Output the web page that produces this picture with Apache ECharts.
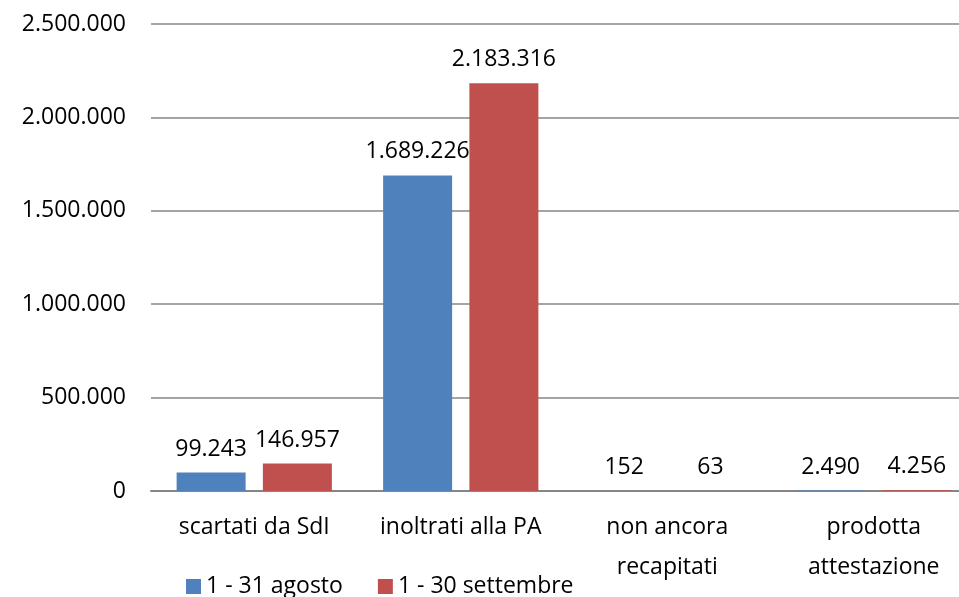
<!DOCTYPE html>
<html>
<head>
<meta charset="utf-8">
<script src="https://cdn.jsdelivr.net/npm/echarts@6/dist/echarts.min.js"></script>
<style>
  html, body { margin: 0; padding: 0; background: #fff; }
  #chart { width: 959px; height: 597px; }
</style>
</head>
<body>
<div id="chart"></div>
<script>
// data
var categories = ['scartati da SdI', 'inoltrati alla PA', 'non ancora\nrecapitati', 'prodotta\nattestazione']
var seriesNames = ['1 - 31 agosto', '1 - 30 settembre']
var agosto = [99243, 1689226, 152, 2490]
var settembre = [146957, 2183316, 63, 4256]
var yTicks = [0, 500000, 1000000, 1500000, 2000000, 2500000]

var FONT = 'Open Sans'
var FS = 23

// 1234567 -> 1.234.567
function fmt(v) {
  return String(v).replace(/\B(?=(\d{3})+(?!\d))/g, '.')
}

function barLabel() {
  return {
    show: true,
    position: 'top',
    distance: 12,
    fontFamily: FONT,
    fontSize: FS,
    color: '#000',
    formatter: function (p) { return fmt(p.value) }
  }
}

var chart = echarts.init(document.getElementById('chart'))

chart.setOption({
  animation: false,
  textStyle: { fontFamily: FONT },
  grid: {
    left: 151,
    right: -18,
    top: 24,
    bottom: 106,
    outerBoundsMode: 'none',
    containLabel: false
  },
  legend: {
    data: seriesNames,
    left: 181,
    top: 570,
    itemWidth: 15,
    itemHeight: 15,
    itemGap: 35,
    icon: 'rect',
    textStyle: { fontFamily: FONT, fontSize: FS, color: '#000' }
  },
  xAxis: {
    type: 'category',
    data: categories,
    axisTick: { show: false },
    axisLine: { lineStyle: { color: '#868686', width: 2 } },
    axisLabel: {
      fontFamily: FONT,
      fontSize: FS,
      color: '#000',
      margin: 16,
      lineHeight: 40,
      interval: 0
    }
  },
  yAxis: {
    type: 'value',
    min: yTicks[0],
    max: yTicks[yTicks.length - 1],
    interval: yTicks[1] - yTicks[0],
    axisLine: { show: false },
    axisTick: { show: false },
    splitLine: { lineStyle: { color: '#868686', width: 1.5 } },
    axisLabel: {
      fontFamily: FONT,
      fontSize: FS,
      color: '#000',
      margin: 25,
      formatter: fmt
    }
  },
  series: [{
    name: seriesNames[0],
    type: 'bar',
    data: agosto,
    barWidth: 69,
    barGap: '25%',
    itemStyle: { color: '#4F81BD' },
    label: barLabel()
  }, {
    name: seriesNames[1],
    type: 'bar',
    data: settembre,
    barWidth: 69,
    barGap: '25%',
    itemStyle: { color: '#C0504D' },
    label: barLabel()
  }]
})
</script>
</body>
</html>
